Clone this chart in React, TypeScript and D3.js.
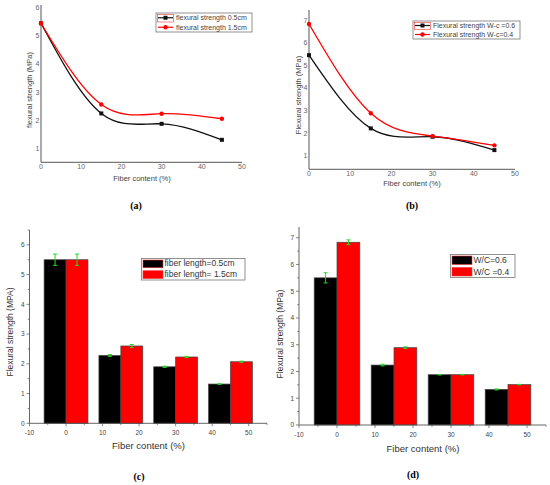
import * as d3 from 'd3';

// fiber content (%) for every panel
const fiberContent = [0, 15, 30, 45];

// (a) flexural strength vs fiber length
const strength05cm = [5.45, 2.24, 1.87, 1.3];
const strength15cm = [5.45, 2.56, 2.23, 2.05];

// (b) flexural strength vs water-cement ratio
const strengthWc06 = [5.45, 2.21, 1.84, 1.25];
const strengthWc04 = [6.83, 2.88, 1.87, 1.46];

// (c) bars, fiber length
const barLen05 = [5.5, 2.28, 1.9, 1.32];
const barLen15 = [5.5, 2.6, 2.23, 2.07];
const errLen05 = [0.19, 0.03, 0.02, 0.01];
const errLen15 = [0.19, 0.05, 0.02, 0.02];

// (d) bars, W/C
const barWc06 = [5.5, 2.24, 1.88, 1.33];
const barWc04 = [6.83, 2.89, 1.88, 1.51];
const errWc06 = [0.19, 0.03, 0.01, 0.02];
const errWc04 = [0.09, 0.03, 0.01, 0.01];

const lineXTicks = [0, 10, 20, 30, 40, 50];
const lineYTicksA = [1, 2, 3, 4, 5, 6];
const lineYTicksB = [1, 2, 3, 4, 5, 6, 7];
const barXTicks = [-10, 0, 10, 20, 30, 40, 50];
const barYTicksC = [0, 1, 2, 3, 4, 5, 6];
const barYTicksD = [0, 1, 2, 3, 4, 5, 6, 7];

const sans = 'Liberation Sans, Arial, sans-serif';
const serif = 'Liberation Serif, Times New Roman, serif';

interface LineSeries {
  values: number[];
  color: string;
  marker: 'square' | 'circle';
  label: string;
}

interface LinePanelProps {
  xRange: [number, number];
  yRange: [number, number];
  yDomain: [number, number];
  yTicks: number[];
  series: LineSeries[];
  yLabel: string;
  yLabelPos: [number, number];
  xLabelPos: [number, number];
  legend: { x: number; y: number; w: number; h: number };
  caption: string;
  captionPos: [number, number];
}

function Marker({ x, y, kind, color }: { x: number; y: number; kind: string; color: string }) {
  if (kind === 'square') return <rect x={x - 2} y={y - 2} width={4} height={4} fill={color} />;
  return <circle cx={x} cy={y} r={2.2} fill={color} />;
}

function LinePanel(p: LinePanelProps) {
  const x = d3.scaleLinear().domain([0, 50]).range(p.xRange);
  const y = d3.scaleLinear().domain(p.yDomain).range(p.yRange);
  const line = d3
    .line<number>()
    .x((_, i) => x(fiberContent[i]))
    .y((d) => y(d))
    .curve(d3.curveNatural);
  const [x0, x1] = p.xRange;
  const [yb, yt] = p.yRange;

  return (
    <g>
      <line x1={x0} x2={x0} y1={yt} y2={yb} stroke="#555" strokeWidth={1} />
      <line x1={x0} x2={x1} y1={yb} y2={yb} stroke="#555" strokeWidth={1} />
      {lineXTicks.map((t) => (
        <text key={t} x={x(t)} y={yb + 7} fontSize={7} fill="#666" textAnchor="middle" fontFamily={sans}>
          {t}
        </text>
      ))}
      {p.yTicks.map((t) => (
        <text key={t} x={x0 - 1.5} y={y(t) + 2.5} fontSize={7} fill="#666" textAnchor="end" fontFamily={sans}>
          {t}
        </text>
      ))}
      {p.series.map((s) => (
        <g key={s.label}>
          <path d={line(s.values) ?? ''} fill="none" stroke={s.color} strokeWidth={1.3} />
          {s.values.map((v, i) => (
            <Marker key={i} x={x(fiberContent[i])} y={y(v)} kind={s.marker} color={s.color} />
          ))}
        </g>
      ))}
      <text
        transform={`translate(${p.yLabelPos[0]},${p.yLabelPos[1]}) rotate(-90)`}
        fontSize={7.5}
        fill="#444"
        textAnchor="middle"
        fontFamily={sans}
      >
        {p.yLabel}
      </text>
      <text x={p.xLabelPos[0]} y={p.xLabelPos[1]} fontSize={7.5} fill="#444" textAnchor="middle" fontFamily={sans}>
        Fiber content (%)
      </text>
      <rect x={p.legend.x} y={p.legend.y} width={p.legend.w} height={p.legend.h} fill="white" stroke="#777" strokeWidth={0.8} />
      <rect x={p.legend.x + 1.5} y={p.legend.y + 1.5} width={16} height={p.legend.h / 2 - 2} fill="none" stroke="#e33" strokeWidth={0.6} />
      {p.series.map((s, i) => {
        const ly = p.legend.y + (p.legend.h / 4) * (1 + 2 * i);
        return (
          <g key={s.label}>
            <line x1={p.legend.x + 2} x2={p.legend.x + 17} y1={ly} y2={ly} stroke={s.color} strokeWidth={1.2} />
            <Marker x={p.legend.x + 9.5} y={ly} kind={s.marker} color={s.color} />
            <text x={p.legend.x + 20} y={ly + 2.5} fontSize={7} fill="#444" fontFamily={sans}>
              {s.label}
            </text>
          </g>
        );
      })}
      <text x={p.captionPos[0]} y={p.captionPos[1]} fontSize={10} fontWeight="bold" textAnchor="middle" fontFamily={serif}>
        {p.caption}
      </text>
    </g>
  );
}

interface BarPanelProps {
  xRange: [number, number];
  yRange: [number, number];
  yDomain: [number, number];
  yTicks: number[];
  black: number[];
  red: number[];
  errBlack: number[];
  errRed: number[];
  labels: [string, string];
  yLabel: string;
  yLabelPos: [number, number];
  xLabelPos: [number, number];
  legend: { x: number; y: number; w: number; h: number };
  caption: string;
  captionPos: [number, number];
}

const barWidth = 6;

function BarPanel(p: BarPanelProps) {
  const x = d3.scaleLinear().domain([-10, 55]).range(p.xRange);
  const y = d3.scaleLinear().domain(p.yDomain).range(p.yRange);
  const [x0, x1] = p.xRange;
  const [yb, yt] = p.yRange;
  const xMinor = d3.range(-10, 55.1, 5);
  const yMinor = d3.range(0, p.yDomain[1] + 0.01, 0.5);

  const bars = [
    { values: p.black, err: p.errBlack, color: '#000', offset: -barWidth },
    { values: p.red, err: p.errRed, color: '#f00', offset: 0 },
  ];

  return (
    <g>
      {bars.map((b, bi) =>
        b.values.map((v, i) => {
          const left = x(fiberContent[i] + b.offset);
          const right = x(fiberContent[i] + b.offset + barWidth);
          return (
            <rect
              key={`${bi}-${i}`}
              x={left}
              y={y(v)}
              width={right - left}
              height={y(0) - y(v)}
              fill={b.color}
              stroke="#444"
              strokeWidth={0.7}
            />
          );
        })
      )}
      {bars.map((b, bi) =>
        b.values.map((v, i) => {
          const cx = x(fiberContent[i] + b.offset + barWidth / 2);
          const top = y(v + b.err[i]);
          const bot = y(v - b.err[i]);
          return (
            <g key={`e${bi}-${i}`} stroke="#2d2" strokeWidth={1}>
              <line x1={cx} x2={cx} y1={top} y2={bot} />
              <line x1={cx - 2} x2={cx + 2} y1={top} y2={top} />
              <line x1={cx - 2} x2={cx + 2} y1={bot} y2={bot} />
            </g>
          );
        })
      )}
      <line x1={x0} x2={x0} y1={yt} y2={yb} stroke="#555" strokeWidth={0.9} />
      <line x1={x0} x2={x1} y1={yb} y2={yb} stroke="#555" strokeWidth={0.9} />
      {xMinor.map((t) => (
        <line key={t} x1={x(t)} x2={x(t)} y1={yb} y2={yb + (t % 10 === 0 ? 3 : 1.8)} stroke="#555" strokeWidth={0.7} />
      ))}
      {yMinor.map((t) => (
        <line key={t} x1={x0} x2={x0 - (t % 1 === 0 ? 3 : 1.8)} y1={y(t)} y2={y(t)} stroke="#555" strokeWidth={0.7} />
      ))}
      {barXTicks.map((t) => (
        <text key={t} x={x(t)} y={yb + 12} fontSize={6.5} fill="#444" textAnchor="middle" fontFamily={sans}>
          {t}
        </text>
      ))}
      {p.yTicks.map((t) => (
        <text key={t} x={x0 - 5} y={y(t) + 2.3} fontSize={6.5} fill="#444" textAnchor="end" fontFamily={sans}>
          {t}
        </text>
      ))}
      <text
        transform={`translate(${p.yLabelPos[0]},${p.yLabelPos[1]}) rotate(-90)`}
        fontSize={8.5}
        fill="#333"
        textAnchor="middle"
        fontFamily={sans}
      >
        {p.yLabel}
      </text>
      <text x={p.xLabelPos[0]} y={p.xLabelPos[1]} fontSize={9.5} fill="#333" textAnchor="middle" fontFamily={sans}>
        Fiber content (%)
      </text>
      <rect x={p.legend.x} y={p.legend.y} width={p.legend.w} height={p.legend.h} fill="white" stroke="#777" strokeWidth={0.8} />
      {bars.map((b, i) => {
        const rowH = p.legend.h / 2;
        const ry = p.legend.y + rowH * i;
        return (
          <g key={i}>
            <rect x={p.legend.x + 1.5} y={ry + 1.5} width={20} height={rowH - 3} fill={b.color} stroke="#e33" strokeWidth={0.6} />
            <text x={p.legend.x + 23} y={ry + rowH - 3} fontSize={8.5} fill="#333" fontFamily={sans}>
              {p.labels[i]}
            </text>
          </g>
        );
      })}
      <text x={p.captionPos[0]} y={p.captionPos[1]} fontSize={10} fontWeight="bold" textAnchor="middle" fontFamily={serif}>
        {p.caption}
      </text>
    </g>
  );
}

export default function App() {
  return (
    <svg
      width={550}
      height={485}
      style={{ position: 'absolute', left: 0, top: 0, background: 'white' }}
    >
      <LinePanel
        xRange={[41, 242]}
        yRange={[162.3, 5]}
        yDomain={[0.5, 6.1]}
        yTicks={lineYTicksA}
        series={[
          { values: strength05cm, color: '#111', marker: 'square', label: 'flexural strength 0.5cm' },
          { values: strength15cm, color: '#f00', marker: 'circle', label: 'flexural strength 1.5cm' },
        ]}
        yLabel="flexural strength (MPa)"
        yLabelPos={[32, 90]}
        xLabelPos={[142, 181]}
        legend={{ x: 156, y: 13, w: 96, h: 19 }}
        caption="(a)"
        captionPos={[136, 209]}
      />
      <LinePanel
        xRange={[309, 515]}
        yRange={[169.3, 10]}
        yDomain={[0.4, 7.45]}
        yTicks={lineYTicksB}
        series={[
          { values: strengthWc06, color: '#111', marker: 'square', label: 'Flexural strength W-c =0.6' },
          { values: strengthWc04, color: '#f00', marker: 'circle', label: 'Flexural strength W-c=0.4' },
        ]}
        yLabel="Flexural strength (MPa)"
        yLabelPos={[300.5, 95]}
        xLabelPos={[412, 186]}
        legend={{ x: 413, y: 21, w: 107, h: 18 }}
        caption="(b)"
        captionPos={[412, 209]}
      />
      <BarPanel
        xRange={[29.5, 267]}
        yRange={[423.3, 230]}
        yDomain={[0, 6.5]}
        yTicks={barYTicksC}
        black={barLen05}
        red={barLen15}
        errBlack={errLen05}
        errRed={errLen15}
        labels={['fiber length=0.5cm', 'fiber length= 1.5cm']}
        yLabel="Flexural strength (MPA)"
        yLabelPos={[12.5, 332]}
        xLabelPos={[148.5, 449]}
        legend={{ x: 141.5, y: 258.5, w: 103.5, h: 21.5 }}
        caption="(c)"
        captionPos={[139, 480]}
      />
      <BarPanel
        xRange={[299, 546]}
        yRange={[425, 227]}
        yDomain={[0, 7.4]}
        yTicks={barYTicksD}
        black={barWc06}
        red={barWc04}
        errBlack={errWc06}
        errRed={errWc04}
        labels={['W/C=0.6', 'W/C =0.4']}
        yLabel="Flexural strength (MPa)"
        yLabelPos={[283, 334]}
        xLabelPos={[423, 452]}
        legend={{ x: 450.5, y: 254.5, w: 64.5, h: 23 }}
        caption="(d)"
        captionPos={[413, 478]}
      />
    </svg>
  );
}
